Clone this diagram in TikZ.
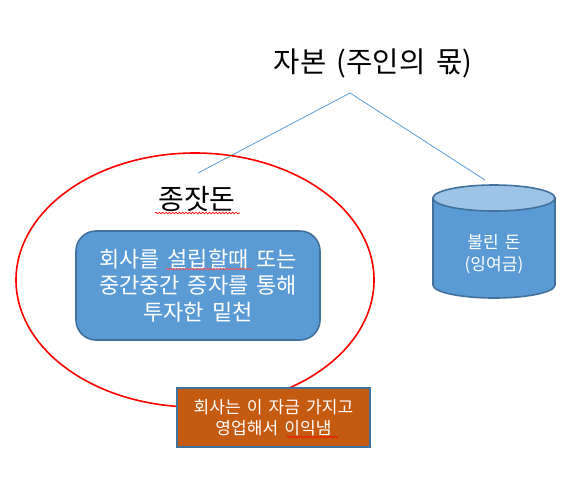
\documentclass[tikz,border=0pt]{standalone}
\usepackage{fontspec}
\newfontfamily\kr[WordSpace=1.6]{Noto Sans CJK KR}
\usetikzlibrary{decorations.pathmorphing}
\definecolor{ppblue}{HTML}{5B9BD5}
\definecolor{ppdark}{HTML}{41719C}
\definecolor{pplight}{HTML}{9DC3E6}
\definecolor{pporange}{HTML}{C55A11}
\tikzset{
  txt/.style={font=\kr, inner sep=0pt, align=center},
  bluebox/.style={draw=ppdark, line width=1.2pt, fill=ppblue, rounded corners=15pt,
    minimum width=183pt, minimum height=81.75pt, text=white, font=\kr\fontsize{16.5}{20}\selectfont, align=center},
  orangebox/.style={draw=ppdark, line width=1.2pt, fill=pporange,
    minimum width=144.75pt, minimum height=44.25pt, text=white, font=\kr\fontsize{12.8}{15.5}\selectfont, align=center},
  squig/.style={draw=red, line width=0.5pt, decorate, decoration={snake, segment length=2.5pt, amplitude=0.6pt}},
  link/.style={draw=ppblue, line width=0.6pt}
}
\begin{document}
\begin{tikzpicture}[x=0.75pt,y=-0.75pt]
\useasboundingbox (0,0) rectangle (581,482);
% title
\node[txt, font=\kr\fontsize{21.5}{25}\selectfont] (title) at (373,63) {자본 (주인의 몫)};
\coordinate (apex) at (350,93);
\coordinate (lend) at (198,173);
\coordinate (rend) at (485,180);
\draw[link] (apex) -- (lend);
\draw[link] (apex) -- (rend);
% red ellipse
\draw[red, line width=1.2pt] (195,280) ellipse [x radius=179, y radius=127];
\node[txt, font=\kr\fontsize{21}{24}\selectfont] (seed) at (197,199) {종잣돈};
\draw[squig] (155,213) -- (240,213);
% blue rounded box
\node[bluebox] (invest) at (198,285.5) {회사를 설립할때 또는\\중간중간 증자를 통해\\투자한 밑천};
\draw[squig, draw=red!70!white] (166,269) -- (253,269);
% cylinder
\draw[draw=ppdark, line width=1.2pt, fill=ppblue] (433,198) -- (433,285) arc[start angle=180, end angle=0, x radius=61, y radius=13] -- (555,198) -- cycle;
\draw[draw=ppdark, line width=1.2pt, fill=pplight] (494,198) ellipse [x radius=61, y radius=13];
\node[txt, text=white, font=\kr\fontsize{12.8}{16.5}\selectfont] (surplus) at (494,254) {불린 돈\\(잉여금)};
% orange box
\node[orangebox] (profit) at (273.5,417.5) {회사는 이 자금 가지고\\영업해서 이익냄};
\draw[squig, line width=0.4pt] (287,437) -- (338,437);
\end{tikzpicture}
\end{document}
